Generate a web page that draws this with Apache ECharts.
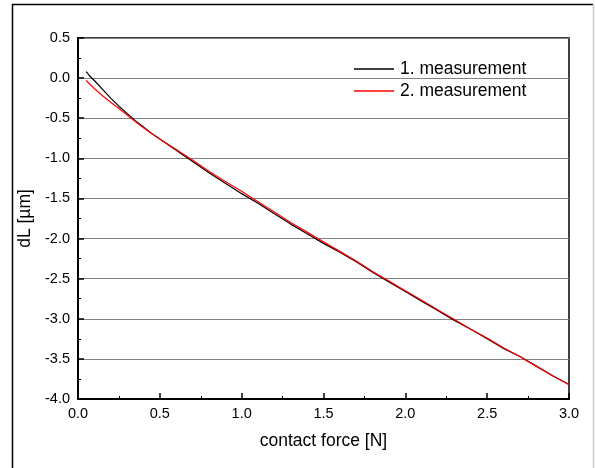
<!DOCTYPE html>
<html>
<head>
<meta charset="utf-8">
<script src="https://cdn.jsdelivr.net/npm/echarts@6/dist/echarts.min.js"></script>
<style>html,body{margin:0;padding:0;background:#fff;}#c{width:595px;height:468px;}</style>
</head>
<body>
<div id="c"></div>
<script>
var forceX = [0.05,0.07,0.10,0.15,0.20,0.25,0.30,0.35,0.40,0.45,0.50,0.60,0.70,0.80,0.90,1.00,1.10,1.20,1.30,1.40,1.50,1.60,1.70,1.80,1.90,2.00,2.10,2.20,2.30,2.40,2.50,2.60,2.70,2.80,2.90,3.00];
var meas1 = [0.08,0.03,-0.03,-0.14,-0.25,-0.35,-0.44,-0.53,-0.61,-0.69,-0.76,-0.90,-1.04,-1.18,-1.31,-1.44,-1.56,-1.69,-1.82,-1.94,-2.06,-2.17,-2.29,-2.42,-2.54,-2.66,-2.78,-2.90,-3.02,-3.13,-3.25,-3.37,-3.47,-3.59,-3.71,-3.82];
var meas2 = [-0.03,-0.07,-0.13,-0.22,-0.30,-0.38,-0.46,-0.54,-0.62,-0.69,-0.76,-0.89,-1.02,-1.16,-1.29,-1.41,-1.54,-1.67,-1.80,-1.92,-2.04,-2.16,-2.28,-2.41,-2.53,-2.65,-2.77,-2.89,-3.01,-3.13,-3.24,-3.36,-3.47,-3.59,-3.71,-3.82];
var seriesNames = ['1. measurement','2. measurement'];

function pairs(xs, ys){ return xs.map(function(x,i){ return [x, ys[i]]; }); }

var font = 'Liberation Sans, Arial, sans-serif';
var chart = echarts.init(document.getElementById('c'), null, {renderer:'canvas'});
chart.setOption({
  animation: false,
  backgroundColor: '#fff',
  graphic: [
    {type:'line', shape:{x1:12,y1:4.5,x2:593,y2:4.5}, style:{stroke:'#000',lineWidth:1.5}, silent:true},
    {type:'line', shape:{x1:12.5,y1:4,x2:12.5,y2:468}, style:{stroke:'#000',lineWidth:1.5}, silent:true},
    {type:'line', shape:{x1:593.5,y1:4,x2:593.5,y2:468}, style:{stroke:'#c8c8c8',lineWidth:1.5}, silent:true}
  ],
  grid: {left:78, right:26, top:38, bottom:69, show:true, borderColor:'#000', borderWidth:1.5, backgroundColor:'transparent'},
  legend: {
    orient:'vertical', left:349, top:55, itemWidth:40, itemHeight:1.5, itemGap:4, icon:'rect',
    textStyle:{fontFamily:font, fontSize:17.5, color:'#000', padding:[0,0,0,1]},
    data: seriesNames
  },
  xAxis: {
    type:'value', min:0, max:3, interval:0.5,
    name:'contact force [N]', nameLocation:'middle', nameGap:33,
    nameTextStyle:{fontFamily:font, fontSize:17.5, color:'#000'},
    axisLine:{show:true, onZero:false, lineStyle:{color:'#000', width:2}},
    axisTick:{show:true, inside:true, length:6, lineStyle:{color:'#000', width:1.5}},
    minorTick:{show:true, splitNumber:2, length:3, lineStyle:{color:'#000', width:1}},
    axisLabel:{fontFamily:font, fontSize:14.5, color:'#000', margin:7, formatter:function(v){return v.toFixed(1);}},
    splitLine:{show:false}
  },
  yAxis: {
    type:'value', min:-4, max:0.5, interval:0.5,
    name:'dL [µm]', nameLocation:'middle', nameGap:43, nameRotate:90,
    nameTextStyle:{fontFamily:font, fontSize:17.5, color:'#000'},
    axisLine:{show:true, onZero:false, lineStyle:{color:'#000', width:2}},
    axisTick:{show:true, inside:true, length:6, lineStyle:{color:'#000', width:1.5}},
    minorTick:{show:true, splitNumber:2, length:3, lineStyle:{color:'#000', width:1}},
    axisLabel:{fontFamily:font, fontSize:14.5, color:'#000', margin:8, formatter:function(v){return v.toFixed(1);}},
    splitLine:{show:true, lineStyle:{color:'#808080', width:1}}
  },
  series: [
    {name:seriesNames[0], type:'line', data:pairs(forceX, meas1), symbol:'none',
     lineStyle:{color:'#000', width:1.2}, itemStyle:{color:'#000'}},
    {name:seriesNames[1], type:'line', data:pairs(forceX, meas2), symbol:'none',
     lineStyle:{color:'#ff0000', width:1.2}, itemStyle:{color:'#ff0000'}}
  ]
});
</script>
</body>
</html>
